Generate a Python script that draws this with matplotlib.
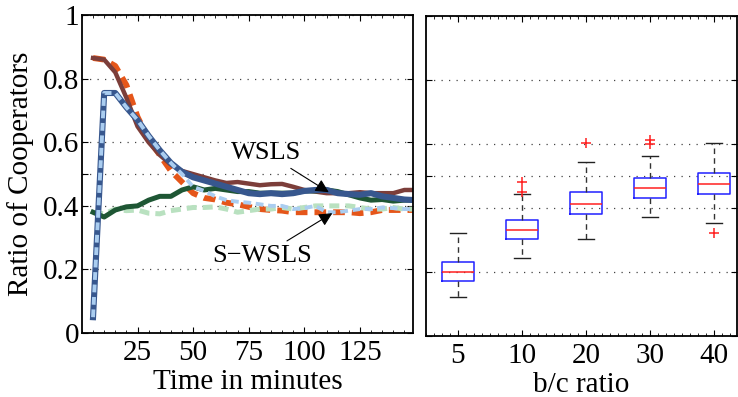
import matplotlib
matplotlib.use("Agg")
import matplotlib.pyplot as plt
from matplotlib.ticker import MultipleLocator, FixedLocator

plt.rcParams['font.family'] = ['Liberation Serif', 'DejaVu Serif']

# Time series (minutes) of the fraction of cooperators
minutes = [5, 10, 15, 20, 25, 30, 35, 40, 45, 50, 55, 60, 65, 70, 75,
           80, 85, 90, 95, 100, 105, 110, 115, 120, 125, 130, 135, 140, 145, 150]

wsls_high = [0.865, 0.86, 0.82, 0.74, 0.65, 0.60, 0.56, 0.53, 0.51, 0.50,
             0.49, 0.48, 0.472, 0.475, 0.47, 0.465, 0.468, 0.469, 0.46, 0.45,
             0.445, 0.44, 0.44, 0.44, 0.443, 0.44, 0.44, 0.44, 0.45, 0.45]
swsls_high = [0.865, 0.86, 0.84, 0.78, 0.68, 0.61, 0.56, 0.51, 0.475, 0.44,
              0.425, 0.42, 0.41, 0.405, 0.397, 0.39, 0.387, 0.385, 0.38, 0.38,
              0.38, 0.38, 0.38, 0.38, 0.377, 0.38, 0.387, 0.387, 0.387, 0.387]
wsls_low = [0.05, 0.755, 0.755, 0.71, 0.67, 0.62, 0.575, 0.535, 0.507, 0.49,
            0.48, 0.47, 0.46, 0.45, 0.44, 0.437, 0.44, 0.437, 0.44, 0.447,
            0.45, 0.45, 0.44, 0.437, 0.435, 0.44, 0.43, 0.425, 0.42, 0.418]
swsls_low = [0.05, 0.755, 0.755, 0.71, 0.67, 0.62, 0.575, 0.535, 0.50, 0.46,
             0.447, 0.43, 0.418, 0.413, 0.41, 0.405, 0.40, 0.40, 0.39, 0.393,
             0.40, 0.38, 0.38, 0.385, 0.39, 0.39, 0.395, 0.393, 0.39, 0.39]
wsls_mid = [0.38, 0.365, 0.387, 0.397, 0.40, 0.418, 0.43, 0.43, 0.45, 0.46,
            0.45, 0.455, 0.45, 0.445, 0.445, 0.44, 0.44, 0.44, 0.44, 0.447,
            0.447, 0.45, 0.445, 0.435, 0.425, 0.418, 0.42, 0.415, 0.418, 0.418]
swsls_mid = [0.38, 0.375, 0.39, 0.385, 0.387, 0.377, 0.375, 0.385, 0.39, 0.395,
             0.395, 0.397, 0.39, 0.38, 0.385, 0.39, 0.39, 0.395, 0.39, 0.395,
             0.40, 0.40, 0.40, 0.40, 0.395, 0.39, 0.39, 0.395, 0.39, 0.39]

# Box statistics per benefit/cost ratio
bc_labels = ['5', '10', '20', '30', '40']
q1 = [0.172, 0.303, 0.382, 0.432, 0.443]
med = [0.20, 0.331, 0.413, 0.462, 0.474]
q3 = [0.231, 0.362, 0.45, 0.492, 0.51]
whis_lo = [0.122, 0.243, 0.302, 0.372, 0.353]
whis_hi = [0.322, 0.443, 0.543, 0.563, 0.602]
outliers = [[], [0.45, 0.482], [0.603], [0.60, 0.612], [0.322]]

fig = plt.figure(figsize=(7.38, 3.97), dpi=100)
ax1 = fig.add_axes([0.111, 0.161, 0.449, 0.801])
ax2 = fig.add_axes([0.577, 0.154, 0.4214, 0.806])

dash = (0, (2.0, 1.2))
ax1.plot(minutes, swsls_high, color='#e5561a', lw=4.2, ls=dash)
ax1.plot(minutes, wsls_high, color='#7c3e3a', lw=3.2)
ax1.plot(minutes, swsls_mid, color='#b9e1c0', lw=3.6, ls=dash)
ax1.plot(minutes, wsls_mid, color='#1e5634', lw=3.6)
ax1.plot(minutes, wsls_low, color='#37578e', lw=4.4)
ax1.plot(minutes, swsls_low, color='#aacdf0', lw=2.8, ls=dash)

arrow = dict(arrowstyle='-|>', color='k', lw=0.8, mutation_scale=20,
             shrinkA=2, shrinkB=0)
ax1.annotate('WSLS', xy=(111, 0.443), xytext=(83, 0.566),
             ha='center', va='center', fontsize=19, arrowprops=arrow)
ax1.annotate('S\u2212WSLS', xy=(112.6, 0.377), xytext=(81, 0.242),
             ha='center', va='center', fontsize=19, arrowprops=arrow)

grid_ticks = [0, 0.2, 0.4, 0.5, 0.6, 0.8, 1]
for ax in (ax1, ax2):
    ax.set_ylim(0, 1)
    ax.yaxis.set_major_locator(FixedLocator(grid_ticks))
    ax.grid(axis='y', color='#444444', ls=(0, (1, 5)), lw=0.9)
    ax.tick_params(direction='in', top=True, right=True, length=4,
                   width=0.8, labelsize=21, pad=2)
    ax.tick_params(axis='x', pad=5)
    ax.tick_params(which='minor', direction='in', top=True, length=2, width=0.6)
    for s in ax.spines.values():
        s.set_linewidth(1.3)

ax1.set_yticklabels(['0', '0.2', '0.4', '', '0.6', '0.8', '1'])
ax1.set_xlim(0, 149)
ax1.set_xticks([25, 50, 75, 100, 125])
ax1.xaxis.set_minor_locator(MultipleLocator(5))
ax1.set_xlabel('Time in minutes', fontsize=21, labelpad=2)
ax1.set_ylabel('Ratio of Cooperators', fontsize=21, labelpad=6)

stats = []
for i in range(len(bc_labels)):
    stats.append(dict(med=med[i], q1=q1[i], q3=q3[i], whislo=whis_lo[i],
                      whishi=whis_hi[i], fliers=outliers[i], label=bc_labels[i]))
ax2.bxp(stats, positions=range(1, 6), widths=0.5,
        boxprops=dict(color='#2020ff', lw=1.1),
        medianprops=dict(color='#ff2020', lw=1.1),
        whiskerprops=dict(color='#333333', lw=1.0, ls=(0, (4, 3))),
        capprops=dict(color='#222222', lw=1.0),
        flierprops=dict(marker='+', markeredgecolor='#ff2020', markersize=7,
                        markeredgewidth=1.1, linestyle='none'))
ax2.set_xlim(0.5, 5.36)
ax2.set_yticklabels([])
ax2.xaxis.set_minor_locator(MultipleLocator(0.125))
ax2.set_xlabel('b/c ratio', fontsize=21, labelpad=2)

fig.savefig('out.png', dpi=100)
